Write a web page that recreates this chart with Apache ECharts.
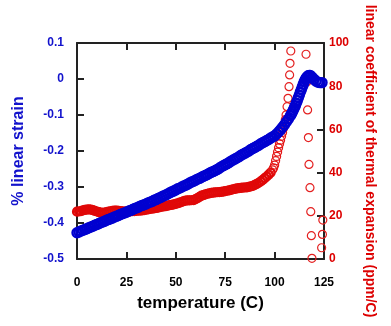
<!DOCTYPE html>
<html>
<head>
<meta charset="utf-8">
<script src="https://cdn.jsdelivr.net/npm/echarts@6/dist/echarts.min.js"></script>
<style>
  html, body { margin: 0; padding: 0; background: #ffffff; }
  #chart { width: 391px; height: 326px; }
</style>
</head>
<body>
<div id="chart"></div>
<script>
// Temperature ticks (C)
const tempTicks = [0, 25, 50, 75, 100, 125];

// % linear strain vs temperature
const strainTemp = [
  0, 1, 2, 3, 4, 5, 6, 7, 8, 9, 10, 11, 12, 13, 14, 15, 16, 17, 18, 19,
  20, 21, 22, 23, 24, 25, 26, 27, 28, 29, 30, 31, 32, 33, 34, 35, 36, 37, 38, 39,
  40, 41, 42, 43, 44, 45, 46, 47, 48, 49, 50, 51, 52, 53, 54, 55, 56, 57, 58, 59,
  60, 61, 62, 63, 64, 65, 66, 67, 68, 69, 70, 71, 72, 73, 74, 75, 76, 77, 78, 79,
  80, 81, 82, 83, 84, 85, 86, 87, 88, 89, 90, 91, 92, 93, 94, 95, 96, 97, 98, 99,
  100, 101, 102, 103, 104, 105, 106, 107, 108, 108.5, 109, 109.5, 110, 110.5, 111, 111.5,
  112, 112.5, 113, 113.5, 114, 114.5, 115, 115.5, 116, 116.5, 117, 117.5, 118, 119,
  120, 121, 122, 123, 124
];
const strainPct = [
  -0.427, -0.425, -0.422, -0.420, -0.418, -0.416, -0.413, -0.411, -0.409, -0.406,
  -0.404, -0.402, -0.399, -0.397, -0.395, -0.392, -0.390, -0.388, -0.386, -0.383,
  -0.381, -0.379, -0.376, -0.374, -0.372, -0.370, -0.367, -0.365, -0.363, -0.360,
  -0.358, -0.356, -0.353, -0.351, -0.349, -0.347, -0.344, -0.342, -0.340, -0.337,
  -0.335, -0.332, -0.330, -0.327, -0.324, -0.322, -0.319, -0.316, -0.313, -0.311,
  -0.308, -0.305, -0.303, -0.300, -0.297, -0.295, -0.292, -0.289, -0.286, -0.284,
  -0.281, -0.278, -0.276, -0.273, -0.270, -0.268, -0.265, -0.262, -0.259, -0.257,
  -0.254, -0.251, -0.248, -0.244, -0.241, -0.238, -0.235, -0.232, -0.228, -0.225,
  -0.222, -0.219, -0.216, -0.212, -0.209, -0.206, -0.203, -0.200, -0.196, -0.193,
  -0.190, -0.187, -0.184, -0.180, -0.177, -0.174, -0.171, -0.168, -0.164, -0.161,
  -0.158, -0.153, -0.147, -0.141, -0.134, -0.127, -0.119, -0.111, -0.102, -0.097,
  -0.092, -0.086, -0.080, -0.074, -0.067, -0.060, -0.052, -0.045, -0.037, -0.030,
  -0.022, -0.015, -0.008, -0.002, 0.003, 0.006, 0.009, 0.010, 0.010, 0.005,
  -0.001, -0.006, -0.009, -0.010, -0.010
];

// Linear coefficient of thermal expansion (ppm/C) vs temperature
const cteTemp = [
  0, 1, 2, 3, 4, 5, 6, 7, 8, 9, 10, 11, 12, 13, 14, 15, 16, 17, 18, 19,
  20, 21, 22, 23, 24, 25, 26, 27, 28, 29, 30, 31, 32, 33, 34, 35, 36, 37, 38, 39,
  40, 41, 42, 43, 44, 45, 46, 47, 48, 49, 50, 51, 52, 53, 54, 55, 56, 57, 58, 59,
  60, 61, 62, 63, 64, 65, 66, 67, 68, 69, 70, 71, 72, 73, 74, 75, 76, 77, 78, 79,
  80, 81, 82, 83, 84, 85, 86, 87, 88, 89, 90, 91, 92, 93, 94, 95, 96, 97, 98, 99,
  99.5, 100, 100.5, 101, 101.5, 102, 102.5, 103, 103.5, 104, 104.5, 105, 105.4, 105.8,
  106.3, 106.8, 107.3, 107.6, 107.8, 108.2,
  115.9, 116.3, 116.7, 117.1, 117.4, 117.9, 118.3, 118.6, 118.9,
  123.8, 124.2, 124.4
];
const cteValue = [
  21.9, 22.0, 22.2, 22.5, 22.7, 22.9, 23.0, 22.9, 22.6, 22.3,
  22.0, 21.7, 21.5, 21.4, 21.5, 21.7, 21.9, 22.1, 22.3, 22.4,
  22.4, 22.3, 22.2, 22.1, 22.0, 21.9, 21.9, 22.0, 22.1, 22.2,
  22.3, 22.4, 22.4, 22.5, 22.6, 22.8, 23.0, 23.2, 23.3, 23.4,
  23.6, 23.8, 24.0, 24.2, 24.4, 24.5, 24.7, 24.9, 25.1, 25.3,
  25.5, 25.8, 26.1, 26.4, 26.8, 27.0, 27.1, 27.1, 27.2, 27.3,
  27.7, 28.2, 28.8, 29.3, 29.6, 29.9, 30.2, 30.4, 30.6, 30.7,
  30.8, 30.9, 31.0, 31.1, 31.2, 31.4, 31.6, 31.8, 32.0, 32.3,
  32.5, 32.7, 32.8, 32.9, 33.0, 33.1, 33.2, 33.4, 33.6, 33.9,
  34.3, 34.8, 35.3, 35.9, 36.6, 37.4, 38.2, 39.1, 40.0, 41.3,
  42.2, 43.5, 45.5, 47.5, 49.5, 51.5, 53.3, 55.0, 56.8, 58.6, 60.5, 62.5, 64.5, 66.7,
  70.5, 74.4, 79.8, 85.2, 90.6, 96.3,
  94.8, 82.0, 69.0, 56.2, 43.8, 33.0, 21.9, 10.8, 0.3,
  5.2, 11.4, 18.0
];

const FONT = 'Liberation Sans, Arial, Helvetica, sans-serif';
const BLUE = '#1212cc';
const RED = '#dd0000';
const FRAME = '#222222';

// Along the steep rise and beyond, the CTE markers are drawn with a thinner ring
const thinRing = { borderWidth: 1.3, borderColor: '#e41818' };
const sparseRing = { borderWidth: 1.2, borderColor: '#e42020' };

const strainData = strainTemp.map((t, i) => [t, strainPct[i]]);
const cteData = cteTemp.map((t, i) => {
  if (t > 105) return { value: [t, cteValue[i]], itemStyle: sparseRing };
  if (t > 98) return { value: [t, cteValue[i]], itemStyle: thinRing };
  return [t, cteValue[i]];
});

const chart = echarts.init(document.getElementById('chart'), null, { renderer: 'canvas' });

const axisLineStyle = { show: true, onZero: false, lineStyle: { color: FRAME, width: 2 } };
const tickStyle = { show: true, inside: true, length: 7, lineStyle: { color: FRAME, width: 2 } };

chart.setOption({
  animation: false,
  backgroundColor: '#ffffff',
  grid: { left: 77, right: 67, top: 43, bottom: 67, containLabel: false, outerBoundsMode: 'none' },
  xAxis: [
    {
      type: 'value', position: 'bottom',
      min: tempTicks[0], max: tempTicks[tempTicks.length - 1], interval: 25,
      name: 'temperature (C)', nameLocation: 'middle', nameGap: 36,
      nameTextStyle: { fontFamily: FONT, fontWeight: 'bold', fontSize: 17, color: '#000' },
      axisLine: axisLineStyle, axisTick: tickStyle,
      axisLabel: { fontFamily: FONT, fontWeight: 'bold', fontSize: 12, color: '#000', margin: 18 },
      splitLine: { show: false }
    },
    {
      type: 'value', position: 'top',
      min: tempTicks[0], max: tempTicks[tempTicks.length - 1], interval: 25,
      axisLine: axisLineStyle, axisTick: tickStyle,
      axisLabel: { show: false }, splitLine: { show: false }
    }
  ],
  yAxis: [
    {
      type: 'value', position: 'left',
      min: -0.5, max: 0.1, interval: 0.1,
      name: '% linear strain', nameLocation: 'middle', nameGap: 50,
      nameTextStyle: { fontFamily: FONT, fontWeight: 'bold', fontSize: 16, color: BLUE },
      axisLine: axisLineStyle, axisTick: tickStyle,
      axisLabel: {
        fontFamily: FONT, fontWeight: 'bold', fontSize: 12, color: BLUE, margin: 13,
        formatter: v => String(Math.round(v * 10) / 10)
      },
      splitLine: { show: false }
    },
    {
      type: 'value', position: 'right',
      min: 0, max: 100, interval: 20,
      axisLine: axisLineStyle, axisTick: tickStyle,
      axisLabel: { fontFamily: FONT, fontWeight: 'bold', fontSize: 12, color: RED, margin: 5 },
      splitLine: { show: false }
    }
  ],
  graphic: [
    {
      type: 'text', x: 370, y: 161, rotation: -Math.PI / 2, silent: true,
      style: {
        text: 'linear coefficient of thermal expansion (ppm/C)',
        font: 'bold 14px ' + FONT, fill: RED,
        align: 'center', verticalAlign: 'middle'
      }
    }
  ],
  series: [
    {
      name: 'CTE', type: 'scatter', xAxisIndex: 0, yAxisIndex: 1,
      data: cteData, symbol: 'circle', symbolSize: 8, z: 2,
      itemStyle: { color: 'rgba(255,255,255,0)', borderColor: '#e00808', borderWidth: 2.2, opacity: 1 },
      silent: true
    },
    {
      name: 'strain', type: 'scatter', xAxisIndex: 0, yAxisIndex: 0,
      data: strainData, symbol: 'circle', symbolSize: 9, z: 3,
      itemStyle: { color: 'rgba(255,255,255,0)', borderColor: '#0000d0', borderWidth: 2.4, opacity: 1 },
      silent: true
    }
  ]
});
</script>
</body>
</html>
